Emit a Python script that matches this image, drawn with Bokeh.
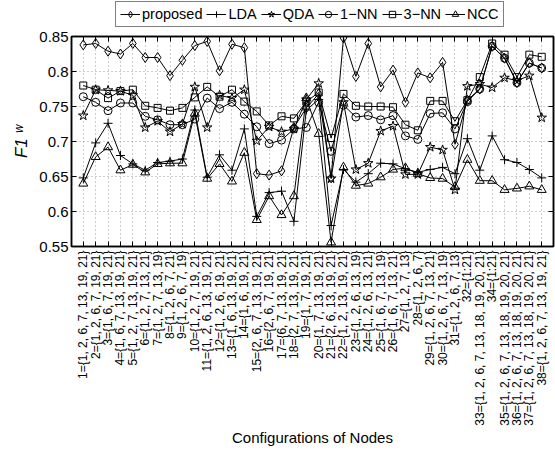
import numpy as np
from bokeh.plotting import figure
from bokeh.layouts import column
from bokeh.models import Range1d, FixedTicker, Legend, LegendItem, LinearAxis
from bokeh.embed import file_html
from bokeh.resources import INLINE

configs = [
    "1={1, 2, 6, 7, 13, 19, 21}", "2={1, 2, 6, 7, 19, 21}", "3={1, 6, 7, 19, 21}",
    "4={1, 6, 7, 13, 19, 21}", "5={1, 2, 7, 13, 19, 21}", "6={1, 2, 7, 13, 21}",
    "7={1, 2, 7, 13, 19}", "8={1, 2, 6, 7, 21}", "9={1, 2, 6, 7, 19}",
    "10={1, 2, 7, 19, 21}", "11={1, 2, 6, 13, 19, 21}", "12={1, 2, 6, 19, 21}",
    "13={1, 6, 13, 19, 21}", "14={1, 6, 19, 21}", "15={2, 6, 7, 13, 19, 21}",
    "16={2, 6, 7, 19, 21}", "17={6, 7, 13, 19, 21}", "18={2, 7, 13, 19, 21}",
    "19={1, 7, 19, 21}", "20={1, 7, 13, 19, 21}", "21={2, 6, 13, 19, 21}",
    "22={1, 2, 13, 19, 21}", "23={1, 2, 6, 13, 19}", "24={1, 2, 6, 13, 21}",
    "25={1, 6, 7, 13, 19}", "26={1, 6, 7, 13, 21}", "27={1, 2, 7, 13}",
    "28={1, 2, 6, 7}", "29={1, 2, 6, 7, 13, 21}", "30={1, 2, 6, 7, 13, 19}",
    "31={1, 2, 6, 7, 13}", "32={1:21}", "33={1, 2, 6, 7, 13, 18, 19, 20, 21}",
    "34={1:21}", "35={1, 2, 6, 7, 13, 18, 19, 20, 21}", "36={1, 2, 6, 7, 13, 18, 19, 20, 21}",
    "37={1, 2, 6, 7, 13, 18, 19, 20, 21}", "38={1, 2, 6, 7, 13, 19, 21}",
]
x = list(range(1, 39))

proposed = [0.838, 0.840, 0.829, 0.825, 0.840, 0.820, 0.820, 0.794, 0.816, 0.837,
            0.843, 0.801, 0.839, 0.834, 0.654, 0.652, 0.658, 0.720, 0.748, 0.768,
            0.648, 0.848, 0.793, 0.840, 0.778, 0.802, 0.756, 0.798, 0.791, 0.813,
            0.696, 0.759, 0.775, 0.836, 0.819, 0.784, 0.812, 0.805]
lda = [0.648, 0.698, 0.726, 0.680, 0.668, 0.659, 0.670, 0.672, 0.675, 0.745,
       0.649, 0.681, 0.659, 0.718, 0.593, 0.627, 0.629, 0.586, 0.745, 0.760,
       0.580, 0.660, 0.642, 0.654, 0.669, 0.668, 0.661, 0.656, 0.660, 0.663,
       0.654, 0.704, 0.659, 0.708, 0.674, 0.670, 0.660, 0.648]
qda = [0.737, 0.774, 0.773, 0.772, 0.766, 0.720, 0.729, 0.714, 0.725, 0.778,
       0.720, 0.766, 0.762, 0.774, 0.701, 0.721, 0.714, 0.718, 0.760, 0.783,
       0.647, 0.756, 0.660, 0.669, 0.715, 0.722, 0.653, 0.653, 0.692, 0.688,
       0.631, 0.779, 0.782, 0.777, 0.791, 0.787, 0.794, 0.734]
nn1 = [0.764, 0.756, 0.744, 0.755, 0.755, 0.736, 0.731, 0.724, 0.724, 0.732,
       0.762, 0.747, 0.756, 0.739, 0.721, 0.697, 0.702, 0.718, 0.720, 0.756,
       0.686, 0.752, 0.735, 0.737, 0.731, 0.737, 0.708, 0.703, 0.740, 0.741,
       0.718, 0.757, 0.775, 0.836, 0.819, 0.784, 0.812, 0.805]
nn3 = [0.780, 0.774, 0.762, 0.772, 0.774, 0.751, 0.748, 0.744, 0.748, 0.763,
       0.778, 0.764, 0.774, 0.757, 0.743, 0.723, 0.736, 0.733, 0.757, 0.770,
       0.705, 0.768, 0.751, 0.750, 0.750, 0.749, 0.724, 0.716, 0.758, 0.758,
       0.729, 0.759, 0.792, 0.840, 0.824, 0.792, 0.824, 0.821]
ncc = [0.640, 0.678, 0.692, 0.659, 0.667, 0.656, 0.668, 0.669, 0.669, 0.740,
       0.647, 0.668, 0.643, 0.684, 0.588, 0.622, 0.595, 0.622, 0.762, 0.711,
       0.556, 0.663, 0.637, 0.640, 0.649, 0.660, 0.662, 0.654, 0.648, 0.647,
       0.635, 0.674, 0.644, 0.644, 0.631, 0.633, 0.636, 0.631]

y_ticks = [0.55, 0.6, 0.65, 0.7, 0.75, 0.8, 0.85]
y_tick_labels = ["0.55", "0.6", "0.65", "0.7", "0.75", "0.8", "0.85"]

series = [
    ("proposed", proposed, "diamond", 10),
    ("LDA", lda, "cross", 9),
    ("QDA", qda, "star", 10),
    ("1\u2212NN", nn1, "circle", 8),
    ("3\u2212NN", nn3, "square", 7),
    ("NCC", ncc, "triangle", 9),
]

FONT = "Liberation Sans"

# ---------- main plot ----------
p = figure(width=555, height=423, output_backend="svg", toolbar_location=None,
           x_range=Range1d(0.05, 38.95), y_range=Range1d(0.55, 0.85),
           min_border_left=71, min_border_right=2, min_border_top=8,
           min_border_bottom=205)
p.background_fill_color = "white"
p.border_fill_color = "white"
p.outline_line_color = "black"
p.outline_line_width = 1.5

for name, data, marker, size in series:
    p.line(x, data, line_color="black", line_width=1)
    p.scatter(x, data, marker=marker, size=size, line_color="black",
              fill_color=None, line_width=1)

xa = p.xaxis[0]
xa.ticker = FixedTicker(ticks=x)
xa.major_label_overrides = {i: configs[i - 1] for i in x}
xa.major_label_orientation = np.pi / 2
xa.major_label_text_font = FONT
xa.major_label_text_font_size = "12px"
xa.major_label_text_color = "black"
xa.major_label_standoff = 4
xa.major_tick_in = 5
xa.major_tick_out = 0
xa.minor_tick_line_color = None
xa.axis_line_color = "black"
xa.axis_line_width = 1.5
xa.axis_label = "Configurations of Nodes"
xa.axis_label_text_font = FONT
xa.axis_label_text_font_size = "15px"
xa.axis_label_text_font_style = "normal"
xa.axis_label_text_color = "black"
xa.axis_label_standoff = 0

ya = p.yaxis[0]
ya.ticker = FixedTicker(ticks=y_ticks)
ya.major_label_overrides = dict(zip(y_ticks, y_tick_labels))
ya.major_label_text_font = FONT
ya.major_label_text_font_size = "15px"
ya.major_label_text_color = "black"
ya.major_label_standoff = 3
ya.major_tick_in = 5
ya.major_tick_out = 0
ya.minor_tick_line_color = None
ya.axis_line_color = "black"
ya.axis_line_width = 1.5
ya.axis_label = "F1 \u02b7"
ya.axis_label_text_font = FONT
ya.axis_label_text_font_size = "17px"
ya.axis_label_text_font_style = "italic"
ya.axis_label_text_color = "black"
ya.axis_label_standoff = 5

# mirrored inward ticks on the top and right edges (no labels)
top_ax = LinearAxis(ticker=FixedTicker(ticks=x), major_label_text_color=None,
                    major_label_standoff=0, major_tick_in=5, major_tick_out=0,
                    minor_tick_line_color=None, axis_line_color="black",
                    axis_line_width=1.5)
right_ax = LinearAxis(ticker=FixedTicker(ticks=y_ticks), major_label_text_color=None,
                      major_label_standoff=0, major_tick_in=5, major_tick_out=0,
                      minor_tick_line_color=None, axis_line_color="black",
                      axis_line_width=1.5)
p.add_layout(top_ax, "above")
p.add_layout(right_ax, "right")

for g in (p.xgrid[0], p.ygrid[0]):
    g.grid_line_color = "#9a9a9a"
    g.grid_line_dash = "1 3"
    g.grid_line_width = 1
p.xgrid[0].ticker = FixedTicker(ticks=x)
p.ygrid[0].ticker = FixedTicker(ticks=y_ticks)

# ---------- legend strip above the plot ----------
# the strip shows the same series, scrolled out of its (empty) view, so only the legend is seen
lg = figure(width=555, height=28, output_backend="svg", toolbar_location=None,
            x_axis_type=None, y_axis_type=None, x_range=Range1d(-3, -2),
            y_range=Range1d(-3, -2), min_border=0, min_border_left=71,
            min_border_right=2)
lg.outline_line_color = None
lg.grid.visible = False
lg.background_fill_color = "white"
lg.border_fill_color = "white"

items = []
for name, data, marker, size in series:
    rl = lg.line(x, data, line_color="black", line_width=1)
    rs = lg.scatter(x, data, marker=marker, size=size, line_color="black",
                    fill_color=None, line_width=1)
    items.append(LegendItem(label=name, renderers=[rl, rs]))

legend = Legend(items=items, orientation="horizontal", location=(44, 1))
legend.label_text_font = FONT
legend.label_text_font_size = "14.5px"
legend.label_text_color = "black"
legend.glyph_width = 20
legend.glyph_height = 16
legend.label_height = 16
legend.label_width = 10
legend.label_standoff = 2
legend.spacing = 4
legend.padding = 4
legend.margin = 0
legend.border_line_color = "black"
legend.border_line_width = 1
legend.background_fill_color = "white"
legend.background_fill_alpha = 1
lg.add_layout(legend, "center")

layout = column(lg, p, spacing=0)
open("out.html", "w").write(file_html(layout, INLINE))
